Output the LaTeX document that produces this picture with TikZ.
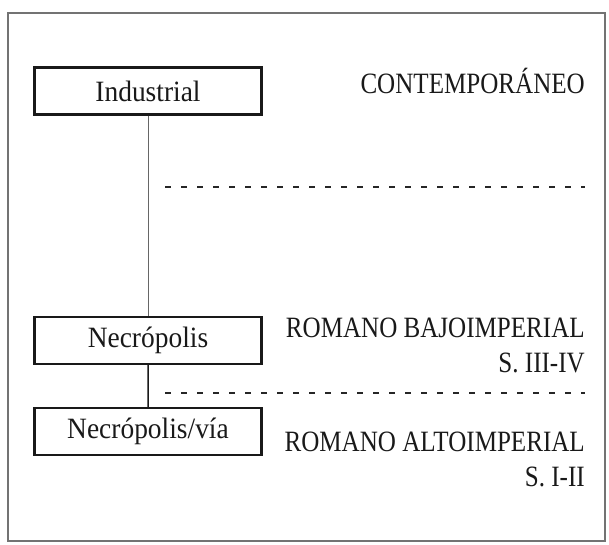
\documentclass[tikz,border=0pt]{standalone}
\usepackage{fontspec}
\setmainfont{Liberation Serif}
\newfontfamily\boxfont[FakeStretch=0.93]{Liberation Serif}
\newfontfamily\erafont[FakeStretch=0.85]{Liberation Serif}
\usepackage{tikz}

\begin{document}
\begin{tikzpicture}[x=1pt, y=1pt,
  period/.style = {shape=rectangle, draw=black!90, line width=2.3pt,
    minimum width=227pt, minimum height=47pt, inner sep=0pt,
    text=black!90, font=\boxfont\fontsize{29.5}{34}\selectfont},
  era/.style = {inner sep=0pt, align=right, anchor=north east,
    text=black!90, font=\erafont\fontsize{29.5}{35}\selectfont},
  level 1/.style = {level distance=249.5pt,
    edge from parent/.style={draw, black!60, line width=1pt}},
  level 2/.style = {level distance=91pt,
    edge from parent/.style={draw, black!90, line width=1.5pt}}]
  \useasboundingbox (0,0) rectangle (609,544);
  \draw[black!55, line width=1.4pt] (8,3) rectangle (605,531);
  \node[period] (ind) at (148,453) {Industrial}
    child { node[period] (nec) {Necrópolis}
      child { node[period] (via) {Necrópolis/vía} } };
  \node[era] (cont) at (585,476) {CONTEMPORÁNEO};
  \node[era] (bajo) at (585,226) {ROMANO BAJOIMPERIAL\\S. III-IV};
  \node[era] (alto) at (585,112) {ROMANO ALTOIMPERIAL\\S. I-II};
  \draw[black!85, line width=2pt, dash pattern=on 6pt off 10pt]
    (165,357) -- (585,357)
    (165,151) -- (585,151);
\end{tikzpicture}
\end{document}
